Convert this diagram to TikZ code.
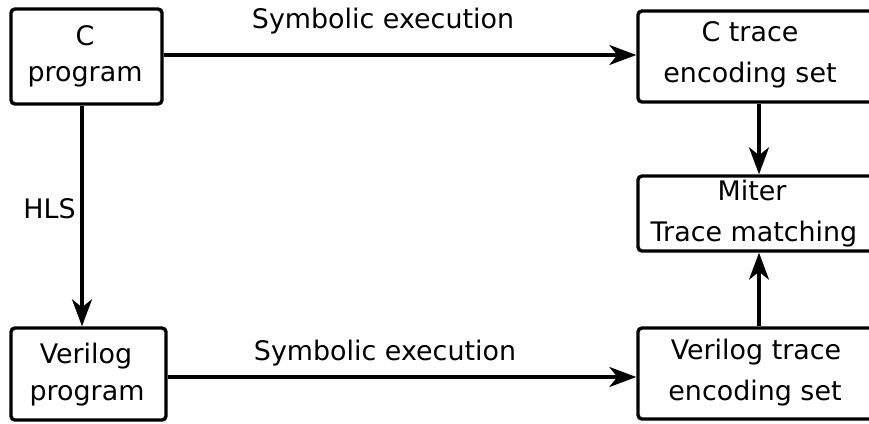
\documentclass[tikz,border=0pt]{standalone}
\usepackage{fontspec}
\setmainfont{DejaVu Sans}
\usetikzlibrary{arrows.meta}
\begin{document}
\begin{tikzpicture}[x=1pt,y=-1pt,
  box/.style={draw, line width=3.4pt, rounded corners=4pt, inner sep=0pt},
  txt/.style={anchor=base, inner sep=0pt, font=\fontsize{26.9}{32}\selectfont},
  arr/.style={line width=3.4pt, -{Stealth[length=27pt,width=20pt,inset=8pt]}}]
\useasboundingbox (0,0) rectangle (869,423);
\clip (0,0) rectangle (869,423);
% boxes
\node[box, minimum width=151pt, minimum height=95pt] (cprog) at (86.5,56.5) {};
\node[box, minimum width=155pt, minimum height=92pt] (vprog) at (88.5,374) {};
\node[box, minimum width=242pt, minimum height=91pt] (ctrace) at (759,56.5) {};
\node[box, minimum width=242pt, minimum height=75pt] (miter) at (759,213.5) {};
\node[box, minimum width=242pt, minimum height=91pt] (vtrace) at (759,373.5) {};
% texts
\node[txt] (cprogA) at (85,45) {C};
\node[txt] (cprogB) at (85,81) {program};
\node[txt] (vprogA) at (86,363) {Verilog};
\node[txt] (vprogB) at (87,400) {program};
\node[txt] (ctraceA) at (750,41.5) {C trace};
\node[txt] (ctraceB) at (750,82) {encoding set};
\node[txt] (miterA) at (752,200) {Miter};
\node[txt] (miterB) at (754,241.5) {Trace matching};
\node[txt] (vtraceA) at (756,359) {Verilog trace};
\node[txt] (vtraceB) at (755,400) {encoding set};
% labels
\node[txt] (sym1) at (383,28) {Symbolic execution};
\node[txt] (sym2) at (385,360) {Symbolic execution};
\node[txt] (hls) at (49.5,218) {HLS};
% connectors
\coordinate (hx) at (82,0);
\draw[arr] ([yshift=1.5pt]cprog.east) -- ([yshift=1.5pt]cprog.east -| ctrace.west);
\draw[arr] (cprog.south -| hx) -- (vprog.north -| hx);
\draw[arr] ([yshift=-3pt]vprog.east) -- ([yshift=-3pt]vprog.east -| vtrace.west);
\draw[arr] (ctrace.south) -- (miter.north);
\draw[arr] (vtrace.north) -- (miter.south);
\end{tikzpicture}
\end{document}
